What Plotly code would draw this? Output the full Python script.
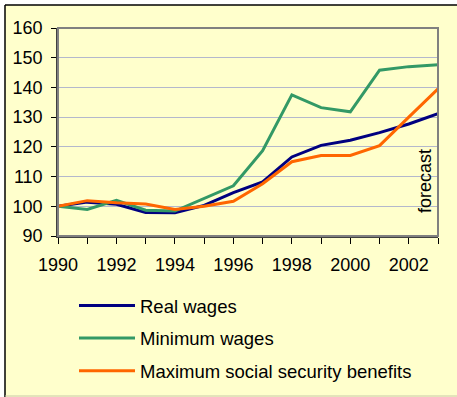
import plotly.graph_objects as go

years = list(range(1990, 2004))
real_wages = [100, 101.4, 100.7, 97.9, 97.8, 100.3, 104.6, 108.2, 116.6, 120.5, 122.2, 124.8, 127.7, 131.2]
minimum_wages = [100, 98.9, 102.0, 98.7, 98.4, 102.7, 106.9, 118.7, 137.5, 133.2, 131.8, 145.8, 147.0, 147.6]
max_benefits = [100, 101.9, 101.2, 100.8, 98.9, 100.0, 101.7, 107.6, 115.0, 117.1, 117.1, 120.4, 130.0, 139.5]
series_names = ["Real wages", "Minimum wages", "Maximum social security benefits"]
y_ticks = [90, 100, 110, 120, 130, 140, 150, 160]
x_labels = [1990, 1992, 1994, 1996, 1998, 2000, 2002]

colors = ["#000080", "#339966", "#FF6600"]
FONT = "Liberation Sans, Arial, sans-serif"

fig = go.Figure()
for name, vals, c in zip(series_names, [real_wages, minimum_wages, max_benefits], colors):
    fig.add_trace(go.Scatter(x=years, y=vals, mode="lines", name=name, legendgroup=name,
                             line=dict(color=c, width=3)))

W, H = 457, 397
L, R, T, B = 58, 19, 28, 161
pw, ph = W - L - R, H - T - B

def px_x(p):
    return (p - L) / pw

def px_y(p):
    return (H - B - p) / ph

bg = "#FFFFCC"
fig.update_layout(
    width=W, height=H,
    margin=dict(l=L, r=R, t=T, b=B, autoexpand=False),
    paper_bgcolor="white",
    plot_bgcolor=bg,
    font=dict(family=FONT, size=18, color="black"),
    showlegend=True,
    legend=dict(x=px_x(74), y=px_y(287), xanchor="left", yanchor="top",
                bgcolor="rgba(0,0,0,0)", font=dict(size=18.5), tracegroupgap=5.5,
                itemwidth=56),
    shapes=[
        dict(type="rect", xref="paper", yref="paper", x0=px_x(5), x1=px_x(458), y0=px_y(398), y1=px_y(5),
             fillcolor=bg, line=dict(width=0), layer="below"),
        dict(type="line", xref="paper", yref="paper", x0=px_x(5), x1=px_x(458), y0=px_y(5), y1=px_y(5),
             line=dict(color="black", width=1.5), layer="below"),
        dict(type="line", xref="paper", yref="paper", x0=px_x(5), x1=px_x(5), y0=px_y(5), y1=px_y(398),
             line=dict(color="black", width=1.5), layer="below"),
        dict(type="line", xref="paper", yref="paper", x0=px_x(5), x1=px_x(458), y0=px_y(396), y1=px_y(396),
             line=dict(color="#C8C8A8", width=1), layer="below"),
        dict(type="rect", xref="paper", yref="paper", x0=0, x1=1, y0=0, y1=1,
             line=dict(color="#808080", width=2), layer="above"),
    ],
    annotations=[
        dict(x=2003, y=108.5, xref="x", yref="y", text="forecast", textangle=-90,
             showarrow=False, xshift=-13, font=dict(size=18, family=FONT))
    ],
)

fig.update_xaxes(range=[1990, 2003], tickvals=x_labels, ticks="outside", ticklen=6,
                 tickcolor="black", showgrid=False, zeroline=False,
                 showline=True, linecolor="#404040", linewidth=1.5,
                 minor=dict(dtick=1, tick0=1990, ticks="outside", ticklen=6, tickcolor="black", showgrid=False),
                 tickfont=dict(size=18), ticklabelstandoff=6, fixedrange=True)
fig.update_yaxes(range=[90, 160], tickvals=y_ticks, ticks="outside", ticklen=5,
                 tickcolor="black", showgrid=True, gridcolor="#B4B8CC", gridwidth=1,
                 zeroline=False, showline=True, linecolor="#404040", linewidth=1.5,
                 tickfont=dict(size=18), ticklabelstandoff=5, fixedrange=True)

fig.write_html("out.html", config={"displayModeBar": False},
               post_script="document.body.style.margin='0';")
